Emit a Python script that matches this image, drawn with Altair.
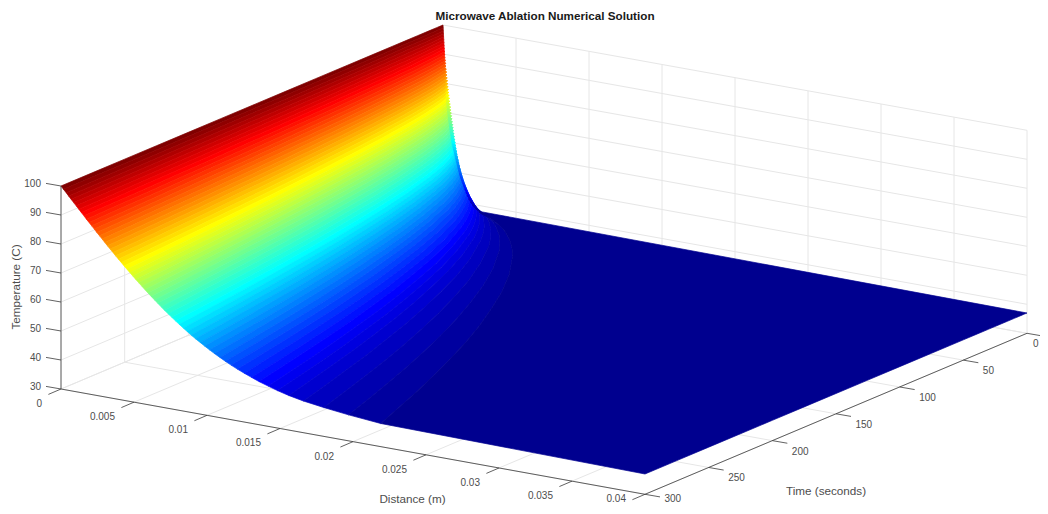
import altair as alt
import pandas as pd

# --- values ---
d_ticks = [0, 0.005, 0.01, 0.015, 0.02, 0.025, 0.03, 0.035, 0.04]
d_labels = ["0", "0.005", "0.01", "0.015", "0.02", "0.025", "0.03", "0.035", "0.04"]
t_ticks = [0, 50, 100, 150, 200, 250, 300]
T_ticks = [30, 40, 50, 60, 70, 80, 90, 100]
T_max = 100.0
T_min = 37.0
# distance (mm) on the t=300 edge at which each of the 63 colour-band borders falls, hot to cold
band_border_mm = [
    0.17, 0.35, 0.52, 0.69, 0.87, 1.04, 1.22, 1.39, 1.57, 1.74, 1.92, 2.10, 2.28, 2.45, 2.64, 2.82,
    3.00, 3.18, 3.37, 3.56, 3.74, 3.94, 4.13, 4.32, 4.52, 4.72, 4.92, 5.12, 5.33, 5.54, 5.75, 5.96,
    6.18, 6.41, 6.63, 6.86, 7.09, 7.34, 7.59, 7.84, 8.10, 8.37, 8.64, 8.92, 9.21, 9.53, 9.84, 10.17,
    10.51, 10.88, 11.25, 11.65, 12.08, 12.55, 13.05, 13.56, 14.19, 14.83, 15.60, 16.60, 18.00, 19.70, 21.90,
]
# the same 63 borders on the t=0 edge (mm)
cliff_border_mm = [
    0.01, 0.02, 0.03, 0.04, 0.05, 0.06, 0.07, 0.08, 0.09, 0.10,
    0.11, 0.12, 0.13, 0.135, 0.145, 0.155, 0.16, 0.17, 0.18, 0.19,
    0.20, 0.21, 0.215, 0.225, 0.235, 0.24, 0.25, 0.27, 0.29, 0.31,
    0.335, 0.36, 0.385, 0.41, 0.44, 0.47, 0.50, 0.53, 0.56, 0.59,
    0.625, 0.675, 0.725, 0.77, 0.82, 0.87, 0.92, 0.97, 1.02, 1.07,
    1.12, 1.17, 1.25, 1.33, 1.42, 1.51, 1.60, 1.70, 1.80, 1.95,
    2.05, 2.2, 2.5,
]
# how far those borders have travelled at later times, relative to t=300
time_rows = [1, 2, 3, 4, 5, 7, 10, 15, 20, 30, 40, 50, 75, 100, 125, 150, 175, 200, 225, 250, 275, 300]
spread = [0.118, 0.126, 0.135, 0.147, 0.158, 0.177, 0.203, 0.241, 0.273, 0.328, 0.375, 0.417,
          0.506, 0.582, 0.648, 0.71, 0.766, 0.818, 0.867, 0.913, 0.957, 1.0]

# --- orthographic view of the 3-D box ---
ORIGIN = (443.0, 228.0)
D_VEC = (584.0, 105.3)
T_VEC = (-382.0, 161.0)
Z_PER_DEG = 2.9


def proj(d, t, T):
    a, b = d / 0.04, t / 300.0
    return (ORIGIN[0] + a * D_VEC[0] + b * T_VEC[0],
            ORIGIN[1] + a * D_VEC[1] + b * T_VEC[1] - (T - 30.0) * Z_PER_DEG)


def jet(i):
    v = (i + 1) / 64.0
    c = lambda f: int(round(255 * max(0.0, min(1.0, f))))
    return "#%02x%02x%02x" % (c(min(4 * v - 1.5, -4 * v + 4.5)),
                              c(min(4 * v - 0.5, -4 * v + 3.5)),
                              c(min(4 * v + 0.5, -4 * v + 2.5)))


def border(k, row):
    """Distance (m) of border k (0..62) on time row; row -1 is the t=0 edge."""
    if row < 0:
        return cliff_border_mm[k] / 1000.0
    return band_border_mm[k] / 1000.0 * spread[row]


# surface: one closed polygon for each colour band
step = (T_max - T_min) / 64.0
rows = []
row_ids = [-1] + list(range(len(time_rows)))
for k in range(64):
    hi_T, lo_T = T_max - k * step, T_max - (k + 1) * step
    seq = 0
    for r in row_ids:
        t = 0 if r < 0 else time_rows[r]
        d = 0.0 if k == 0 else border(k - 1, r)
        x, y = proj(d, t, hi_T)
        rows.append(dict(band=k, seq=seq, x=x, y=y, col=jet(63 - k)))
        seq += 1
    for r in reversed(row_ids):
        t = 0 if r < 0 else time_rows[r]
        d = 0.04 if k == 63 else border(k, r)
        x, y = proj(d, t, lo_T)
        rows.append(dict(band=k, seq=seq, x=x, y=y, col=jet(63 - k)))
        seq += 1
surface_df = pd.DataFrame(rows)

# grid lines on the walls and floor
grid = []
def seg(store, name, a, b):
    store.append(dict(id=name, seq=0, x=a[0], y=a[1]))
    store.append(dict(id=name, seq=1, x=b[0], y=b[1]))

for d in d_ticks:
    seg(grid, f"dw{d}", proj(d, 0, 30), proj(d, 0, 100))
    seg(grid, f"df{d}", proj(d, 0, 30), proj(d, 300, 30))
for t in t_ticks:
    seg(grid, f"tw{t}", proj(0, t, 30), proj(0, t, 100))
    seg(grid, f"tf{t}", proj(0, t, 30), proj(0.04, t, 30))
for T in T_ticks:
    seg(grid, f"zb{T}", proj(0, 0, T), proj(0.04, 0, T))
    seg(grid, f"zl{T}", proj(0, 0, T), proj(0, 300, T))
grid_df = pd.DataFrame(grid)

# axis lines and tick marks
ax = []
seg(ax, "z", proj(0, 300, 30), proj(0, 300, 100))
seg(ax, "d", proj(0, 300, 30), proj(0.04, 300, 30))
seg(ax, "t", proj(0.04, 0, 30), proj(0.04, 300, 30))
for T in T_ticks:
    p = proj(0, 300, T)
    seg(ax, f"zt{T}", p, (p[0] - 15, p[1] - 2.6))
for d in d_ticks:
    p = proj(d, 300, 30)
    seg(ax, f"dt{d}", p, (p[0] - 12.6, p[1] + 5.4))
for t in t_ticks:
    p = proj(0.04, t, 30)
    seg(ax, f"tt{t}", p, (p[0] + 15, p[1] + 2.6))
ax_df = pd.DataFrame(ax)

# tick labels (held inside the picture's edge where the reference runs off it)
z_lab = pd.DataFrame([dict(x=proj(0, 300, T)[0] - 20, y=proj(0, 300, T)[1] - 2, s=str(T)) for T in T_ticks])
d_lab = pd.DataFrame([dict(x=proj(d, 300, 30)[0] - 19, y=min(proj(d, 300, 30)[1] + 15, 499), s=l)
                      for d, l in zip(d_ticks, d_labels)])
t_lab = pd.DataFrame([dict(x=min(proj(0.04, t, 30)[0] + 19.5, 1033), y=min(proj(0.04, t, 30)[1] + 11, 499), s=str(t))
                      for t in t_ticks])

X = alt.X("x:Q", axis=None, scale=alt.Scale(domain=[8, 1040], nice=False, zero=False))
Y = alt.Y("y:Q", axis=None, scale=alt.Scale(domain=[506, 8], nice=False, zero=False))
FONT = "Liberation Sans"
TXT = "#4d4d4d"

grid_layer = alt.Chart(grid_df).mark_line(color="#e6e6e6", strokeWidth=1, clip=True).encode(
    x=X, y=Y, detail="id:N", order="seq:Q")
surface_layer = alt.Chart(surface_df).mark_line(
    filled=True, interpolate="linear-closed", strokeWidth=0.7, strokeJoin="round").encode(
    x=X, y=Y, detail="band:N", order="seq:Q",
    fill=alt.Fill("col:N", scale=None), stroke=alt.Stroke("col:N", scale=None))
axis_layer = alt.Chart(ax_df).mark_line(color="#3a3a3a", strokeWidth=0.8, clip=True).encode(
    x=X, y=Y, detail="id:N", order="seq:Q")


def labels(df, align):
    return alt.Chart(df).mark_text(align=align, baseline="middle", font=FONT, fontSize=10, color=TXT).encode(
        x=X, y=Y, text="s:N")


titles = pd.DataFrame([
    dict(x=412.5, y=499, s="Distance (m)"),
    dict(x=826, y=491, s="Time (seconds)"),
])
title_layer = alt.Chart(titles).mark_text(align="center", baseline="middle", font=FONT, fontSize=11.7, color=TXT).encode(
    x=X, y=Y, text="s:N")
z_title = alt.Chart(pd.DataFrame([dict(x=16, y=287, s="Temperature (C)")])).mark_text(
    align="center", baseline="middle", angle=270, font=FONT, fontSize=11.7, color=TXT).encode(x=X, y=Y, text="s:N")
main_title = alt.Chart(pd.DataFrame([dict(x=545, y=16, s="Microwave Ablation Numerical Solution")])).mark_text(
    align="center", baseline="middle", font=FONT, fontSize=11.7, fontWeight="bold", color="#1a1a1a").encode(
    x=X, y=Y, text="s:N")

chart = alt.layer(
    grid_layer, surface_layer, axis_layer,
    labels(z_lab, "right"), labels(d_lab, "right"), labels(t_lab, "left"),
    title_layer, z_title, main_title,
).properties(width=1032, height=498, padding=0, autosize=alt.AutoSizeParams(type="none"),
             background="white").configure_view(stroke=None)

chart.save("out.html", embed_options={"renderer": "svg", "actions": False})
